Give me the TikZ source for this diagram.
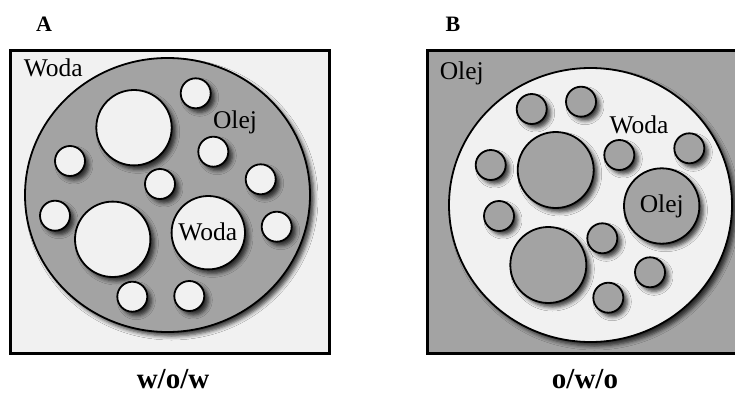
\documentclass[tikz,border=0pt]{standalone}
\usepackage{fontspec}
\setmainfont{Liberation Serif}
\usetikzlibrary{shadows.blur}

\definecolor{waterfill}{RGB}{241,241,241}
\definecolor{oilfill}{RGB}{163,163,163}

\tikzset{
  drop/.style={draw=black, line width=1.8pt,
    blur shadow={shadow xshift=4pt, shadow yshift=-4pt,
      shadow blur radius=4pt, shadow opacity=75}},
  water/.style={drop, fill=waterfill},
  oil/.style={drop, fill=oilfill},
  frame/.style={draw=black, line width=3pt},
  phase/.style={font=\fontsize{25.5}{28}\selectfont},
  panel/.style={font=\bfseries\fontsize{22}{24}\selectfont},
  kind/.style={font=\bfseries\fontsize{29}{32}\selectfont, anchor=base},
}

\begin{document}
\begin{tikzpicture}[x=1pt, y=-1pt]
    \clip (0, 0) rectangle (735, 396);
    \fill[white] (0, 0) rectangle (735, 396);

    % A: water drops in oil, oil drop in water
    \node[panel] (labA) at (44, 24.5) {A};
    \draw[frame, fill=waterfill] (10.5, 50.5) rectangle (329.5, 353);
    \draw[oil] (167.5, 195) ellipse [x radius=142.5, y radius=137];
    \draw[water] (195.7, 93.3)  circle (15);
    \draw[water] (134, 127.7)   circle (37.7);
    \draw[water] (70, 161)      circle (15);
    \draw[water] (213.3, 151.7) circle (15);
    \draw[water] (160, 184)     circle (15);
    \draw[water] (260.7, 179.3) circle (15);
    \draw[water] (55, 215.7)    circle (15);
    \draw[water] (112.7, 239.3) circle (37.7);
    \draw[water] (208.3, 232.7) circle (36.7);
    \draw[water] (276.7, 226.7) circle (15);
    \draw[water] (132.3, 296.7) circle (15);
    \draw[water] (189.3, 296)   circle (15);
    \node[phase] (outerA) at (53.3, 68.3)  {Woda};
    \node[phase] (midA)   at (235, 122.7) {Olej};
    \node[phase] (innerA) at (207.7, 231.7) {Woda};
    \node[kind] (typeA) at (173, 388) {w/o/w};

    % B: oil drops in water, water drop in oil
    \node[panel] (labB) at (453, 24.5) {B};
    \draw[frame, fill=oilfill] (427.5, 50.5) rectangle (746.5, 353);
    \draw[water] (590.5, 205) ellipse [x radius=141.5, y radius=137];
    \draw[oil] (531.7, 109)   circle (15);
    \draw[oil] (581, 101.7)   circle (15);
    \draw[oil] (490.7, 165)   circle (15);
    \draw[oil] (555.7, 170)   circle (38);
    \draw[oil] (619.3, 155)   circle (15);
    \draw[oil] (689.3, 148.3) circle (15);
    \draw[oil] (499, 216)     circle (15);
    \draw[oil] (661.7, 206)   circle (37.7);
    \draw[oil] (602.3, 238.3) circle (15);
    \draw[oil] (548.3, 265)   circle (38);
    \draw[oil] (650, 272.3)   circle (15);
    \draw[oil] (608.3, 297.7) circle (15);
    \node[phase] (outerB) at (461.7, 73.3) {Olej};
    \node[phase] (midB)   at (639, 125)    {Woda};
    \node[phase] (innerB) at (661.7, 206)  {Olej};
    \node[kind] (typeB) at (585, 388) {o/w/o};
\end{tikzpicture}
\end{document}
